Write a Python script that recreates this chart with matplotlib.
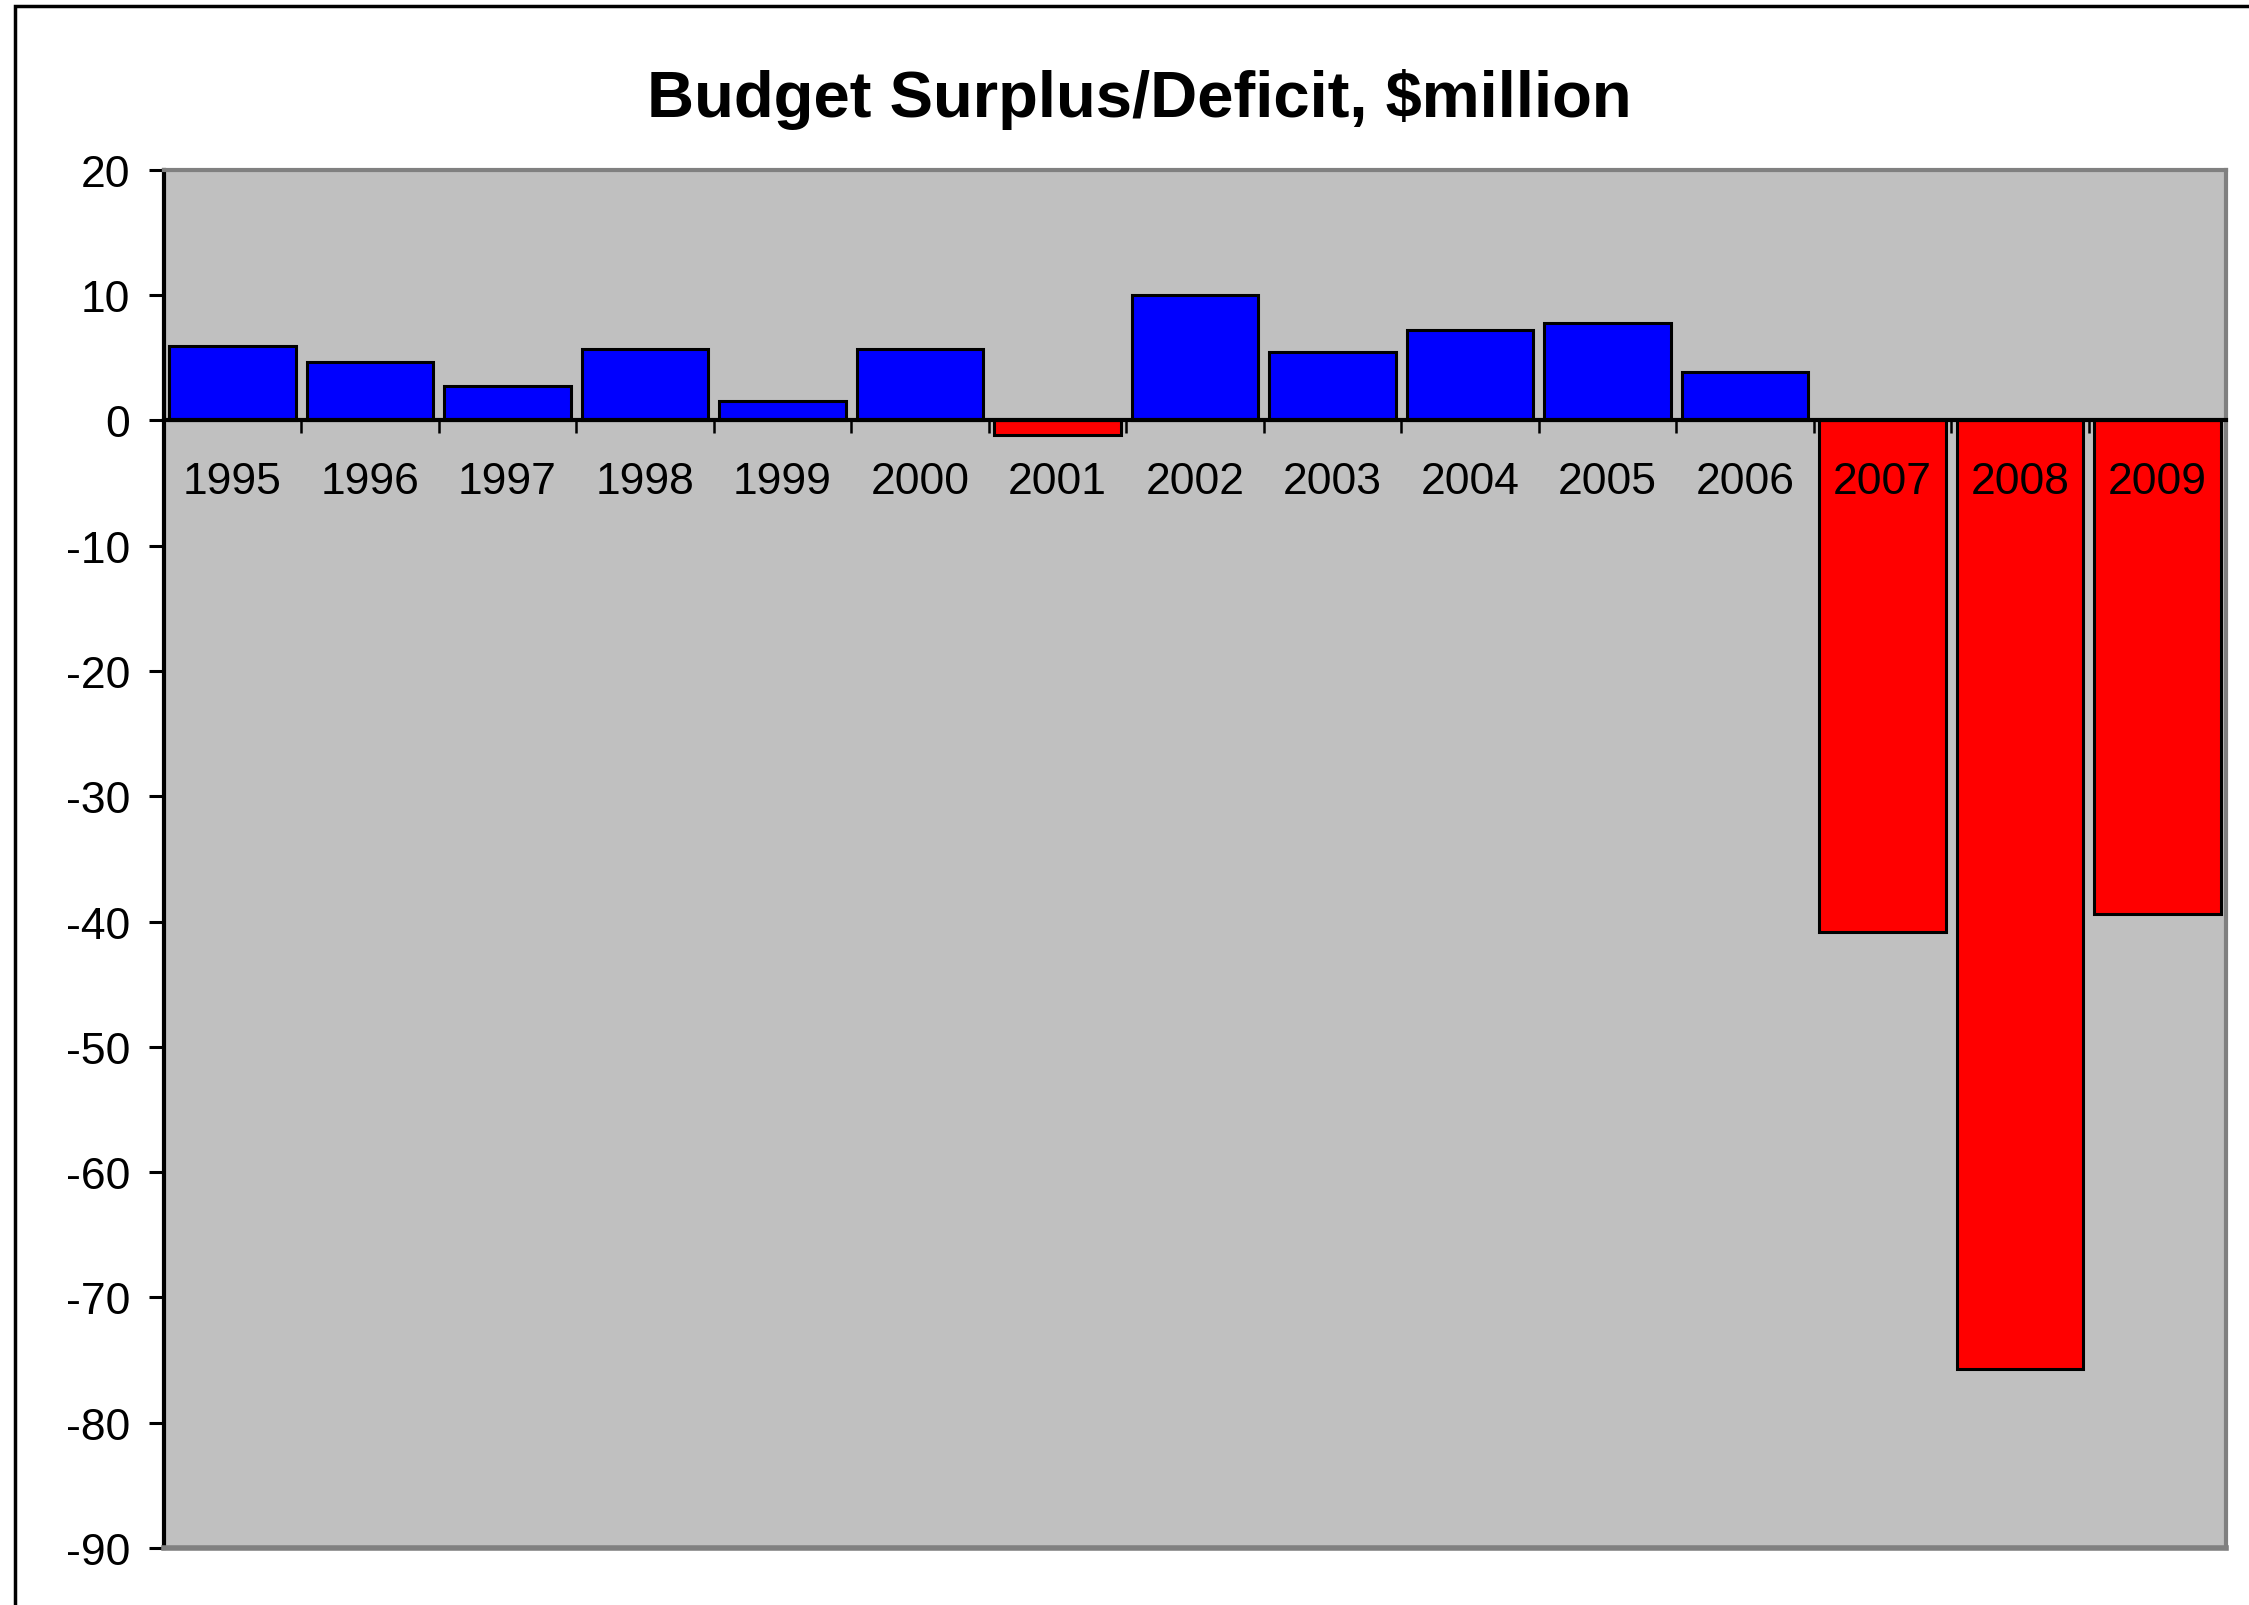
import numpy as np
import matplotlib.pyplot as plt
from matplotlib.patches import Rectangle

# budget surplus / deficit by year, $million
years = ['1995', '1996', '1997', '1998', '1999', '2000', '2001', '2002',
         '2003', '2004', '2005', '2006', '2007', '2008', '2009']
balance = [5.9, 4.65, 2.7, 5.7, 1.55, 5.7, -1.2, 10.0,
           5.45, 7.2, 7.75, 3.85, -40.8, -75.7, -39.4]
yticks = [20, 10, 0, -10, -20, -30, -40, -50, -60, -70, -80, -90]

plt.rcParams['font.family'] = ['Liberation Sans', 'DejaVu Sans']

fig = plt.figure(figsize=(22.49, 16.06), dpi=100)
ax = fig.add_axes([0.0727, 0.0355, 0.9171, 0.8582])
ax.set_facecolor('#C0C0C0')

x = np.arange(len(years))
cols = ['#0000FF' if v >= 0 else '#FF0000' for v in balance]
ax.bar(x, balance, width=0.92, color=cols, edgecolor='black', linewidth=2.2, zorder=1)

ax.set_xlim(-0.5, len(years) - 0.5)
ax.set_ylim(-90, 20)
ax.set_yticks(yticks)
ax.set_yticklabels([str(t) for t in yticks])
ax.tick_params(axis='y', labelsize=32, length=11, width=2.2, pad=13, direction='out')

# x axis sits on the zero line, ticks between categories
ax.spines['bottom'].set_position(('data', 0))
ax.spines['bottom'].set_color('black')
ax.spines['bottom'].set_linewidth(3)
ax.set_xticks(np.arange(-0.5, len(years), 1))
ax.set_xticklabels([])
ax.set_xticks(x, minor=True)
ax.set_xticklabels(years, minor=True)
ax.tick_params(axis='x', which='major', length=9, width=1.8, direction='out')
ax.tick_params(axis='x', which='minor', length=0, labelsize=32, pad=29)

ax.spines['left'].set_color('black')
ax.spines['left'].set_linewidth(3)
for s in ['top', 'right']:
    ax.spines[s].set_color('#808080')
    ax.spines[s].set_linewidth(3)
ax.axhline(-90, color='#808080', linewidth=4, clip_on=False, zorder=3)

fig.text(0.5065, 0.938, 'Budget Surplus/Deficit, $million', ha='center', va='center',
         fontsize=47, fontweight='bold')

# chart area border (only left and top edges show)
fig.patches.append(Rectangle((15 / 2249, -0.1), 1.2, 1.1 - 7 / 1606, transform=fig.transFigure,
                             fill=False, edgecolor='black', linewidth=2.5))

fig.savefig('out.png', dpi=100)
